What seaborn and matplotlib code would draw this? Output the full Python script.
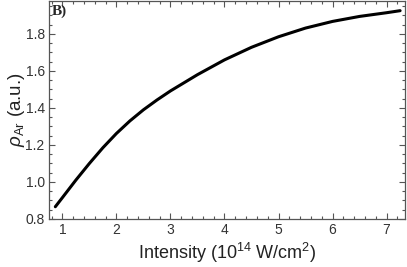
import numpy as np
import pandas as pd
import seaborn as sns
import matplotlib.pyplot as plt
from matplotlib.ticker import MultipleLocator

# values
intensity = [0.87, 1.0, 1.25, 1.5, 1.75, 2.0, 2.25, 2.5, 2.75, 3.0, 3.5, 4.0, 4.5, 5.0, 5.5, 6.0, 6.5, 7.0, 7.25]
rho_ar = [0.866, 0.915, 1.010, 1.100, 1.185, 1.262, 1.330, 1.390, 1.443, 1.492, 1.580, 1.660, 1.728, 1.785,
          1.832, 1.868, 1.895, 1.915, 1.926]

xticks = [1, 2, 3, 4, 5, 6, 7]
yticks = [0.8, 1.0, 1.2, 1.4, 1.6, 1.8]

sns.set_theme(style="ticks")
plt.rcParams['font.family'] = ['Liberation Sans', 'DejaVu Sans']
plt.rcParams['mathtext.fontset'] = 'custom'
plt.rcParams['mathtext.rm'] = 'Liberation Sans'
plt.rcParams['mathtext.it'] = 'Liberation Sans:italic'

df = pd.DataFrame({"intensity": intensity, "rho": rho_ar})

fig = plt.figure(figsize=(4.07, 2.67), dpi=100)
ax = fig.add_axes([0.120, 0.180, 0.875, 0.816])
sns.lineplot(data=df, x="intensity", y="rho", color="black", lw=2.2, ax=ax)

ax.set_xlim(0.75, 7.34)
ax.set_ylim(0.8, 1.978)
ax.set_xticks(xticks)
ax.set_yticks(yticks)
ax.set_xticklabels([str(t) for t in xticks])
ax.set_yticklabels([f"{t:.1f}" for t in yticks])
ax.xaxis.set_minor_locator(MultipleLocator(0.2))
ax.yaxis.set_minor_locator(MultipleLocator(0.05))
ax.tick_params(which="both", direction="in", top=True, right=True, colors="#555555",
               labelcolor="#333333", labelsize=10, width=0.8, pad=3)
ax.tick_params(which="major", length=4)
ax.tick_params(which="minor", length=2)
for sp in ax.spines.values():
    sp.set_color("#555555")
    sp.set_linewidth(0.9)

ax.set_xlabel(r"Intensity (10$^{14}$ W/cm$^{2}$)", fontsize=13, color="#222222", labelpad=3)
ax.set_ylabel(r"$\rho_{\rm Ar}$ (a.u.)", fontsize=13.5, color="#222222")
ax.yaxis.set_label_coords(-0.062, 0.5)
ax.text(0.008, 0.985, "B)", transform=ax.transAxes, ha="left", va="top",
        fontsize=11, fontweight="bold", family="Liberation Serif")

plt.savefig("out.png", dpi=100)
plt.close()
